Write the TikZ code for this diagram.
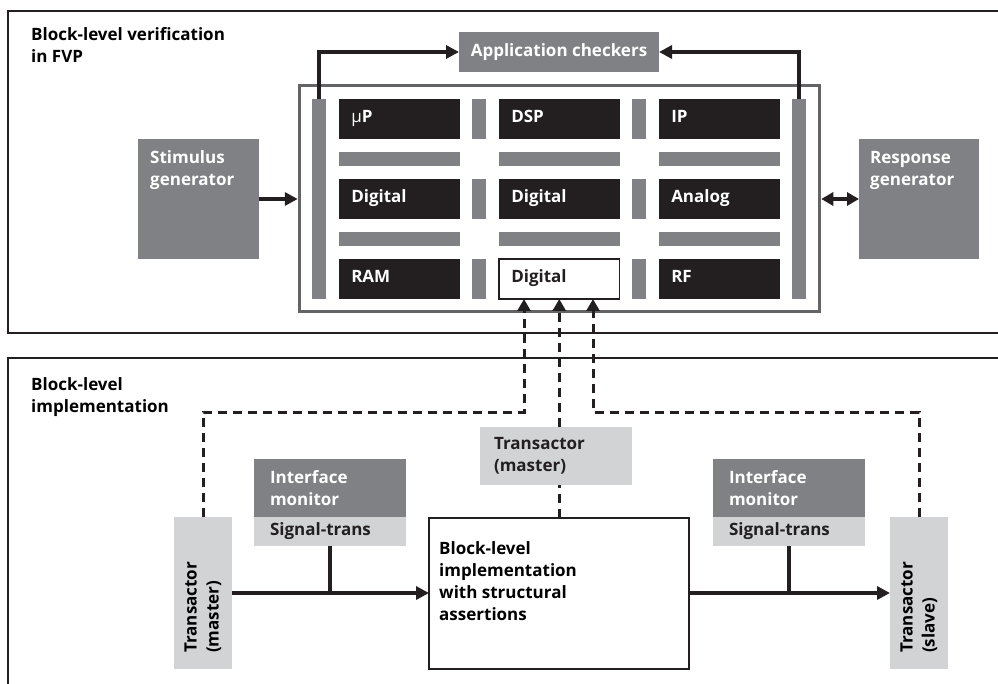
\documentclass[tikz,border=0pt]{standalone}
\usepackage{fontspec}
\setmainfont{Open Sans}
\usetikzlibrary{arrows.meta,calc}

\definecolor{midgray}{HTML}{808184}
\definecolor{palegray}{HTML}{D1D3D4}
\definecolor{inkblack}{HTML}{231F20}
\definecolor{chipgray}{HTML}{636466}

\begin{document}
\begin{tikzpicture}[x=1pt,y=-1pt,
  txt/.style={font=\fontsize{17}{22}\selectfont\bfseries},
  plain/.style={inner sep=0pt, outer sep=0pt, anchor=north west},
  dark/.style={plain, fill=midgray, text=white},
  pale/.style={plain, fill=palegray, text=inkblack},
  cell/.style={plain, fill=inkblack, text=white, minimum width=120.5pt,
    minimum height=40pt, text width=96pt, inner xsep=12pt, align=left,
    text height=12pt, text depth=4pt, txt},
  bar/.style={plain, fill=midgray},
  frame/.style={draw=inkblack, line width=1.6pt},
  tip/.style={-{Triangle[length=13pt,width=13pt]}},
  arr/.style={line width=3.5pt, draw=inkblack, tip},
  dsh/.style={line width=3pt, draw=inkblack, dash pattern=on 9pt off 6pt},
  dsharr/.style={dsh, -{Triangle[length=12pt,width=13pt]}}
]
\useasboundingbox (0,0) rectangle (998,684);
\clip (0,0) rectangle (998,684);

% ---------- upper panel: verification platform ----------
\draw[frame] (8,11) rectangle (1012,333);
% multi-line labels are placed by the baseline of their last line
\node[txt, anchor=base west, align=left, inner sep=0pt] (fvptitle) at (31,63)
  {Block-level verification\\in FVP};

\node[dark, txt, minimum width=200pt, minimum height=40pt] (app) at (459,32)
  {Application checkers};

% chip outline and its bus bars
\node[draw=chipgray, line width=3.5pt, minimum width=520pt, minimum height=226pt,
  inner sep=0pt] (chip) at (559.5,198.5) {};
\node[bar, minimum width=14pt, minimum height=200pt] (lbar) at (312,99) {};
\node[bar, minimum width=14pt, minimum height=200pt] (rbar) at (792,99) {};

\foreach \cx [count=\i] in {339,499,659}
  \foreach \ry [count=\j] in {152,232}
    \node[bar, minimum width=120.5pt, minimum height=14pt] (hb\i\j) at (\cx,\ry) {};
\foreach \cx [count=\i] in {472,632}
  \foreach \ry [count=\j] in {99,179,259}
    \node[bar, minimum width=14pt, minimum height=40pt] (vb\i\j) at (\cx,\ry) {};

% functional blocks
\node[cell] (up)  at (339,99)  {{\mdseries µ}P};
\node[cell] (dsp) at (499,99)  {DSP};
\node[cell] (ip)  at (659,99)  {IP};
\node[cell] (dg1) at (339,179) {Digital};
\node[cell] (dg2) at (499,179) {Digital};
\node[cell] (ana) at (659,179) {Analog};
\node[cell] (ram) at (339,259) {RAM};
\node[cell, fill=white, text=inkblack, draw=inkblack, line width=1.8pt] (dig) at (499,259) {Digital};
\node[cell] (rf)  at (659,259) {RF};

% generators
\node[dark, minimum width=121pt, minimum height=120pt] (stim) at (138,139) {};
\node[txt, text=white, anchor=base west, align=left, inner sep=0pt] (stimtext) at (150,186)
  {Stimulus\\generator};
\node[dark, minimum width=120pt, minimum height=120pt] (resp) at (859,139) {};
\node[txt, text=white, anchor=base west, align=left, inner sep=0pt] (resptext) at (870,186)
  {Response\\generator};

\draw[arr] (stim.east) -- (stim.east -| chip.west);
\draw[line width=3.5pt, draw=inkblack,
  {Triangle[length=12pt,width=13pt]}-{Triangle[length=12pt,width=13pt]}]
  (chip.east |- resp.west) -- (resp.west);
\draw[arr] (lbar.north) |- (app.west);
\draw[arr] (rbar.north) |- (app.east);

% ---------- lower panel: implementation ----------
\draw[frame] (8,358) rectangle (1012,700);
\node[txt, anchor=base west, align=left, inner sep=0pt] (impltitle) at (31,412)
  {Block-level\\implementation};

\node[pale, minimum width=58pt, minimum height=152pt] (tmL) at (174,517) {};
\node[txt, rotate=90, anchor=west, align=left, inner sep=0pt] (tmLtext) at (203,653)
  {Transactor\\(master)};
\node[pale, minimum width=58pt, minimum height=152pt] (tmS) at (890,517) {};
\node[txt, rotate=90, anchor=west, align=left, inner sep=0pt] (tmStext) at (919,653)
  {Transactor\\(slave)};

\node[dark, txt, minimum width=152pt, minimum height=58pt, text width=120pt,
  inner xsep=16pt, align=left] (imL) at (254,459) {Interface\\monitor};
\node[pale, txt, minimum width=152pt, minimum height=29pt, text width=120pt,
  inner xsep=16pt, align=left] (sgL) at (254,517) {Signal-trans};
\node[dark, txt, minimum width=152pt, minimum height=58pt, text width=120pt,
  inner xsep=16pt, align=left] (imR) at (713,459) {Interface\\monitor};
\node[pale, txt, minimum width=152pt, minimum height=29pt, text width=120pt,
  inner xsep=16pt, align=left] (sgR) at (713,517) {Signal-trans};

\node[pale, txt, minimum width=152pt, minimum height=58pt, text width=124pt,
  inner xsep=14pt, align=left] (tmM) at (480,427) {Transactor\\(master)};

\node[plain, draw=inkblack, fill=white, line width=1.8pt, minimum width=260pt,
  minimum height=151pt] (blk) at (429,518) {};
\node[txt, anchor=base west, align=left, inner sep=0pt] (blktext) at (439,620)
  {Block-level\\implementation\\with structural\\assertions};

% data path with monitor taps
\draw[arr] (tmL.east) -- (tmL.east -| blk.west);
\draw[arr] (blk.east |- tmS.west) -- (tmS.west);
\draw[line width=3.5pt, draw=inkblack] (sgL.south) -- (sgL.south |- tmL.east);
\draw[line width=3.5pt, draw=inkblack] (sgR.south) -- (sgR.south |- tmS.west);

% transaction links up to the block under test
\coordinate (kneeL) at (524,412);
\coordinate (kneeR) at (593,412);
\draw[dsharr] (tmL.north) |- (kneeL) -- (kneeL |- dig.south);
\draw[dsharr] (tmS.north) |- (kneeR) -- (kneeR |- dig.south);
\draw[dsharr] (tmM.north -| dig.south) -- (dig.south);
\draw[dsh] (dig.south |- blk.north) -- (dig.south |- tmM.south);
\end{tikzpicture}
\end{document}
